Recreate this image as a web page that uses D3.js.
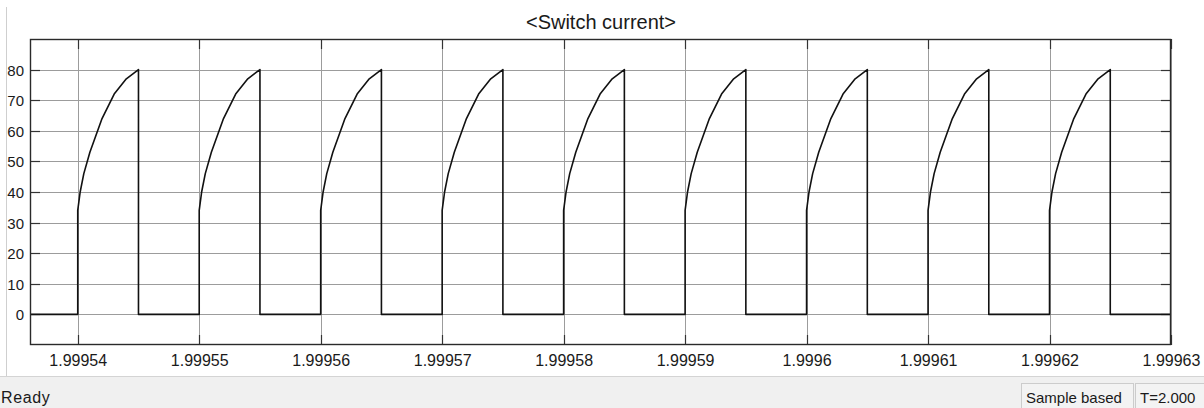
<!DOCTYPE html>
<html>
<head>
<meta charset="utf-8">
<script src="https://cdn.jsdelivr.net/npm/d3@7/dist/d3.min.js"></script>
<style>
  html, body { margin: 0; padding: 0; background: #ffffff; }
  svg { display: block; }
  text { font-family: "Liberation Sans", Arial, sans-serif; fill: #1a1a1a; }
</style>
</head>
<body>
<svg id="chart" width="1204" height="408"></svg>
<script>
// ---------- data ----------
const titleText = "<Switch current>";
const xTickValues = [1.99954, 1.99955, 1.99956, 1.99957, 1.99958, 1.99959, 1.9996, 1.99961, 1.99962, 1.99963];
const xTickLabels = ["1.99954", "1.99955", "1.99956", "1.99957", "1.99958", "1.99959", "1.9996", "1.99961", "1.99962", "1.99963"];
const yTickValues = [0, 10, 20, 30, 40, 50, 60, 70, 80];
const yTickLabels = ["0", "10", "20", "30", "40", "50", "60", "70", "80"];
const xDomain = [1.99953607, 1.99963];
const yDomain = [-10, 90];
// switching pulses: start times (s)
const pulseStarts = [1.99954, 1.99955, 1.99956, 1.99957, 1.99958, 1.99959, 1.9996, 1.99961, 1.99962];
// shape of each pulse: time offset (microseconds) and current (A)
const pulseOffsetsUs = [0, 0, 0.2, 0.5, 1, 2, 3, 4, 5, 5];
const pulseCurrent   = [0, 34, 40, 46, 53, 64, 72, 77, 80, 0];
const statusLeft = "Ready";
const statusBoxes = ["Sample based", "T=2.000"];

// ---------- build series ----------
const series = [{t: xDomain[0], v: 0}];
pulseStarts.forEach(s => {
  pulseOffsetsUs.forEach((o, i) => series.push({t: s + o * 1e-6, v: pulseCurrent[i]}));
});
series.push({t: xDomain[1], v: 0});

// ---------- layout ----------
const svg = d3.select("#chart");
const L = 30, R = 1171, T = 39, B = 345;

const x = d3.scaleLinear().domain(xDomain).range([L, R]);
const y = d3.scaleLinear().domain(yDomain).range([B, T]);

// left window edge line
svg.append("line").attr("x1", 6.5).attr("x2", 6.5).attr("y1", 7).attr("y2", 377)
  .attr("stroke", "#cfcfcf").attr("stroke-width", 1);

// plot background
svg.append("rect").attr("x", L).attr("y", T).attr("width", R - L).attr("height", B - T)
  .attr("fill", "#ffffff");

// grid
const grid = svg.append("g");
grid.selectAll("line.gx").data(xTickValues).join("line")
  .attr("x1", d => Math.round(x(d)) + 0.5).attr("x2", d => Math.round(x(d)) + 0.5)
  .attr("y1", T).attr("y2", B).attr("stroke", "#9c9c9c").attr("stroke-width", 1);
grid.selectAll("line.gy").data(yTickValues).join("line")
  .attr("y1", d => Math.round(y(d)) + 0.5).attr("y2", d => Math.round(y(d)) + 0.5)
  .attr("x1", L).attr("x2", R).attr("stroke", "#9c9c9c").attr("stroke-width", 1);

// axes (ticks inside)
const xb = d3.axisBottom(x).tickValues(xTickValues).tickSize(0).tickPadding(0)
  .tickFormat((d, i) => xTickLabels[i]);
const gx = svg.append("g").attr("transform", `translate(0,${B})`).call(xb);
gx.select(".domain").remove();
gx.selectAll("text").attr("dy", null).attr("y", 21).style("font-size", "16px")
  .style("font-family", '"Liberation Sans", Arial, sans-serif').attr("fill", "#1a1a1a");

const yl = d3.axisLeft(y).tickValues(yTickValues).tickSize(0).tickPadding(6)
  .tickFormat((d, i) => yTickLabels[i]);
const gy = svg.append("g").attr("transform", `translate(${L},0)`).call(yl);
gy.select(".domain").remove();
gy.selectAll("text").attr("dy", "0.36em").style("font-size", "15px")
  .style("font-family", '"Liberation Sans", Arial, sans-serif').attr("fill", "#1a1a1a");

// inward tick marks on all four sides
const tk = svg.append("g").attr("stroke", "#333").attr("stroke-width", 1.2);
xTickValues.forEach(v => {
  const px = Math.round(x(v)) + 0.5;
  tk.append("line").attr("x1", px).attr("x2", px).attr("y1", B).attr("y2", B - 10);
  tk.append("line").attr("x1", px).attr("x2", px).attr("y1", T).attr("y2", T + 10);
});
yTickValues.forEach(v => {
  const py = Math.round(y(v)) + 0.5;
  tk.append("line").attr("x1", L).attr("x2", L + 10).attr("y1", py).attr("y2", py);
  tk.append("line").attr("x1", R).attr("x2", R - 10).attr("y1", py).attr("y2", py);
});

// signal
const line = d3.line().x(d => x(d.t)).y(d => y(d.v));
svg.append("path").datum(series).attr("d", line)
  .attr("fill", "none").attr("stroke", "#111").attr("stroke-width", 1.6)
  .attr("stroke-linejoin", "round");

// frame
svg.append("rect").attr("x", L + 0.5).attr("y", T + 0.5).attr("width", R - L - 1).attr("height", B - T - 1)
  .attr("fill", "none").attr("stroke", "#2a2a2a").attr("stroke-width", 1.4);

// title
svg.append("text").attr("x", 601).attr("y", 29).attr("text-anchor", "middle")
  .style("font-size", "20px").text(titleText);

// status bar
svg.append("rect").attr("x", 0).attr("y", 377).attr("width", 1204).attr("height", 31).attr("fill", "#f0f0f0");
svg.append("line").attr("x1", 0).attr("x2", 1204).attr("y1", 376.5).attr("y2", 376.5)
  .attr("stroke", "#d4d4d4");
svg.append("text").attr("x", 1).attr("y", 403).style("font-size", "16px")
  .style("letter-spacing", "0.6px").text(statusLeft);

const boxX = [1021, 1135];
const boxW = [112, 80];
statusBoxes.forEach((s, i) => {
  svg.append("rect").attr("x", boxX[i] + 0.5).attr("y", 383.5).attr("width", boxW[i]).attr("height", 30)
    .attr("fill", "#f3f3f3").attr("stroke", "#cccccc");
  svg.append("text").attr("x", boxX[i] + 5).attr("y", 403).style("font-size", "15px").text(s);
});
</script>
</body>
</html>
